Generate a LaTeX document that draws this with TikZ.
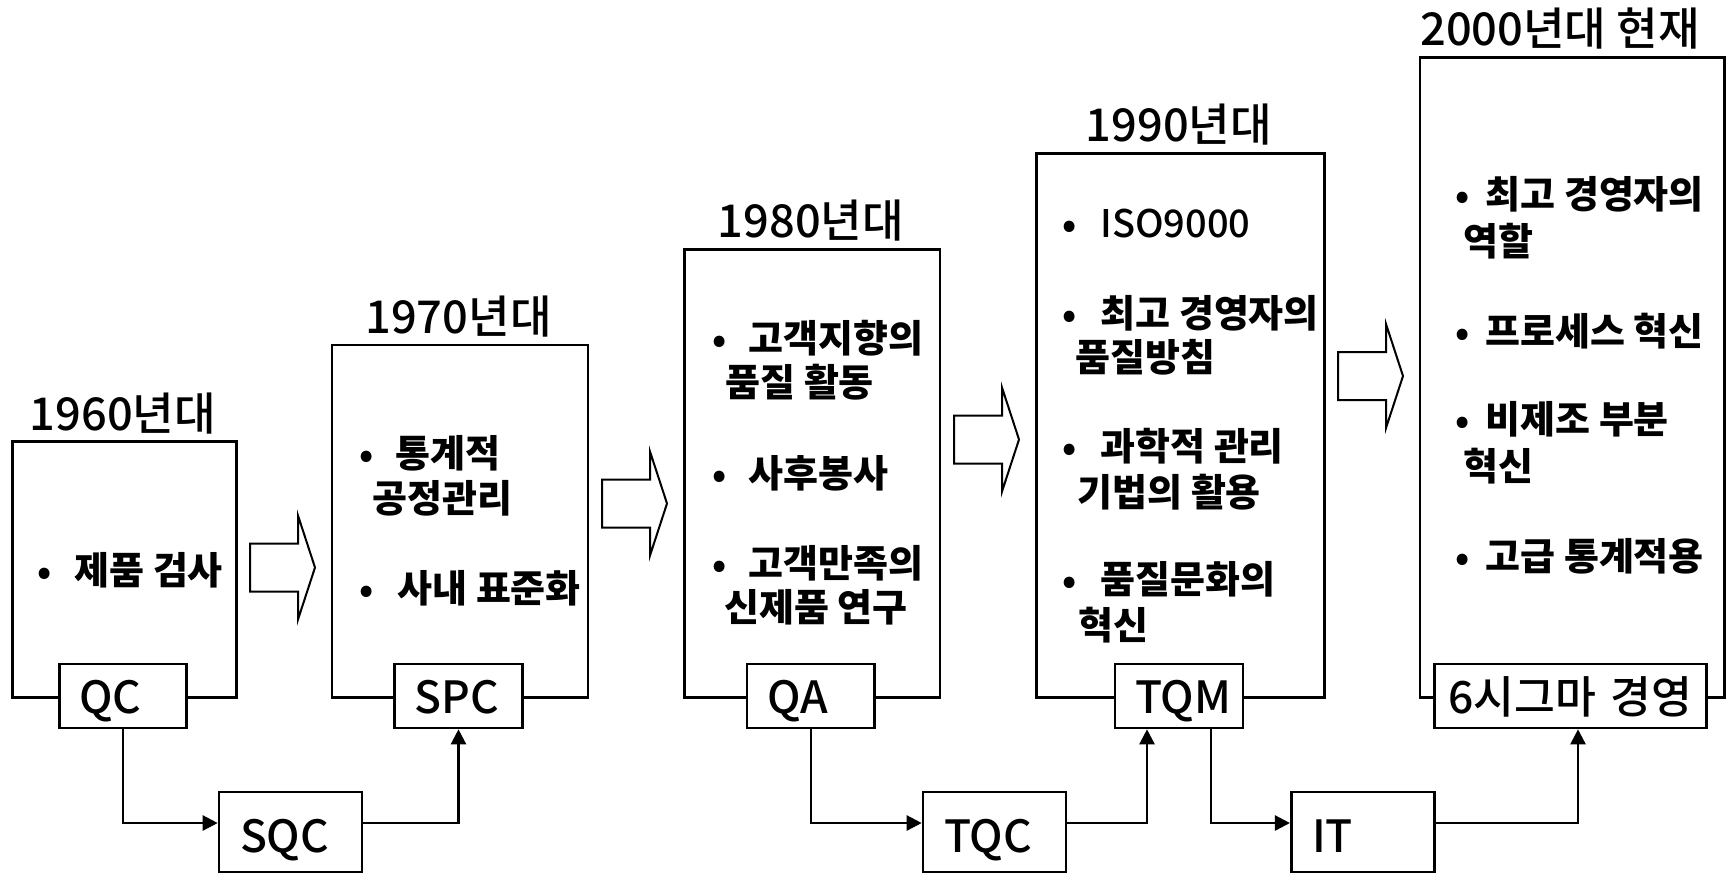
\documentclass[tikz,border=0pt]{standalone}
\usepackage{fontspec}
\setmainfont{Noto Sans CJK KR}
\newfontfamily\medfont{Noto Sans CJK KR Medium}
\usetikzlibrary{arrows.meta}
\begin{document}
\begin{tikzpicture}[x=0.5pt,y=-0.5pt,
  bigbox/.style={draw, line width=1.3pt, anchor=north west, inner sep=0pt},
  tag/.style={draw, fill=white, line width=1.3pt, inner ysep=0pt, inner xsep=10pt,
    text height=24.5pt, text depth=7.5pt, align=left,
    font=\medfont\fontsize{22.2pt}{26pt}\selectfont},
  lowbox/.style={tag, inner xsep=10.5pt, text width=50.5pt, text height=30pt, text depth=10pt},
  title/.style={anchor=base, inner sep=0pt, font=\medfont\fontsize{22.6pt}{26pt}\selectfont},
  body/.style={anchor=base west, inner sep=0pt, font=\bfseries\fontsize{19pt}{23pt}\selectfont},
  latin/.style={anchor=base west, inner sep=0pt, font=\medfont\fontsize{19pt}{23pt}\selectfont},
  bul/.style={anchor=base, inner sep=0pt, font=\bfseries\fontsize{17.75pt}{21pt}\selectfont},
  blockarrow/.style={draw, line width=1pt, fill=white, line join=miter},
  conn/.style={line width=1.2pt, -{Triangle[length=7.5pt,width=7.5pt]}},
  barrow/.pic={\draw[blockarrow] (0,-24) -- (48,-24) -- (48,-52) -- (65,0) -- (48,52) -- (48,24) -- (0,24) -- cycle;}
]
\useasboundingbox (0,0) rectangle (1727,873);

% big boxes
\node[bigbox, minimum width=112pt, minimum height=128pt] (box1) at (11,440) {};
\node[bigbox, minimum width=128pt, minimum height=176.25pt] (box2) at (330.5,343.5) {};
\node[bigbox, minimum width=127.75pt, minimum height=224pt] (box3) at (683,248) {};
\node[bigbox, minimum width=144pt, minimum height=272pt] (box4) at (1035,152) {};
\node[bigbox, minimum width=152.25pt, minimum height=320pt] (box5) at (1418.5,56) {};

% titles
\node[title] (h1) at (123,430) {1960년대};
\node[title] (h2) at (458.5,333) {1970년대};
\node[title] (h3) at (811,237) {1980년대};
\node[title] (h4) at (1179,141) {1990년대};
\node[title] (h5) at (1560,45) {2000년대 현재};

% block arrows
\pic (a1) at (250,567.5) {barrow};
\pic (a2) at (602,503.5) {barrow};
\pic (a3) at (954,439.5) {barrow};
\pic (a4) at (1338,376) {barrow};

% box 1 text
\node[bul] (u1a) at (45,584) {•};
\node[body] (t1a) at (74,584) {제품 검사};

% box 2 text
\node[bul] (u2a) at (367,467) {•};
\node[body] (t2a) at (395,467) {통계적};
\node[body] (t2b) at (372,512) {공정관리};
\node[bul] (u2b) at (367,602) {•};
\node[body] (t2c) at (397,602) {사내 표준화};

% box 3 text
\node[bul] (u3a) at (720,352) {•};
\node[body] (t3a) at (748,352) {고객지향의};
\node[body] (t3b) at (725,396) {품질 활동};
\node[bul] (u3b) at (720,487) {•};
\node[body] (t3c) at (748,487) {사후봉사};
\node[bul] (u3c) at (720,577) {•};
\node[body] (t3d) at (748,577) {고객만족의};
\node[body] (t3e) at (724,621) {신제품 연구};

% box 4 text
\node[bul] (u4a) at (1070,237) {•};
\node[latin] (t4a) at (1100,237) {ISO9000};
\node[bul] (u4b) at (1070,327) {•};
\node[body] (t4b) at (1100,327) {최고 경영자의};
\node[body] (t4c) at (1075,371) {품질방침};
\node[bul] (u4c) at (1070,460) {•};
\node[body] (t4d) at (1100,460) {과학적 관리};
\node[body] (t4e) at (1077,506) {기법의 활용};
\node[bul] (u4d) at (1070,593) {•};
\node[body] (t4f) at (1100,593) {품질문화의};
\node[body] (t4g) at (1078,639) {혁신};

% box 5 text
\node[bul] (u5a) at (1463,208) {•};
\node[body] (t5a) at (1485,208) {최고 경영자의};
\node[body] (t5b) at (1463,255) {역할};
\node[bul] (u5b) at (1463,345) {•};
\node[body] (t5c) at (1485,345) {프로세스 혁신};
\node[bul] (u5c) at (1463,433) {•};
\node[body] (t5d) at (1485,433) {비제조 부분};
\node[body] (t5e) at (1463,480) {혁신};
\node[bul] (u5d) at (1463,570) {•};
\node[body] (t5f) at (1485,570) {고급 통계적용};

% tags on the boxes
\node[tag, text width=43.5pt] (qc) at (123,696) {QC};
\node[tag, text width=44pt] (spc) at (458.5,696) {SPC};
\node[tag, text width=43.75pt] (qa) at (810.75,696) {QA};
\node[tag, text width=44pt] (tqm) at (1179,696) {\mbox{TQM}};
\node[tag, inner xsep=7pt, text width=122.2pt] (six) at (1570.5,696) {\mbox{6시그마 경영}};

% lower boxes
\node[lowbox] (sqc) at (290.5,832) {SQC};
\node[lowbox] (tqc) at (994.5,832) {TQC};
\node[lowbox] (it) at (1362.75,832) {IT};

% connectors
\draw[conn] (qc.south) |- ([yshift=4.5pt]sqc.west);
\draw[conn] ([yshift=4.5pt]sqc.east) -| (spc.south);
\draw[conn] (qa.south) |- ([yshift=4.5pt]tqc.west);
\draw[conn] ([yshift=4.5pt]tqc.east) -| ([xshift=-16pt]tqm.south);
\draw[conn] ([xshift=16pt]tqm.south) |- ([yshift=4.5pt]it.west);
\draw[conn] ([yshift=4.5pt]it.east) -| ([xshift=3.75pt]six.south);
\end{tikzpicture}
\end{document}
